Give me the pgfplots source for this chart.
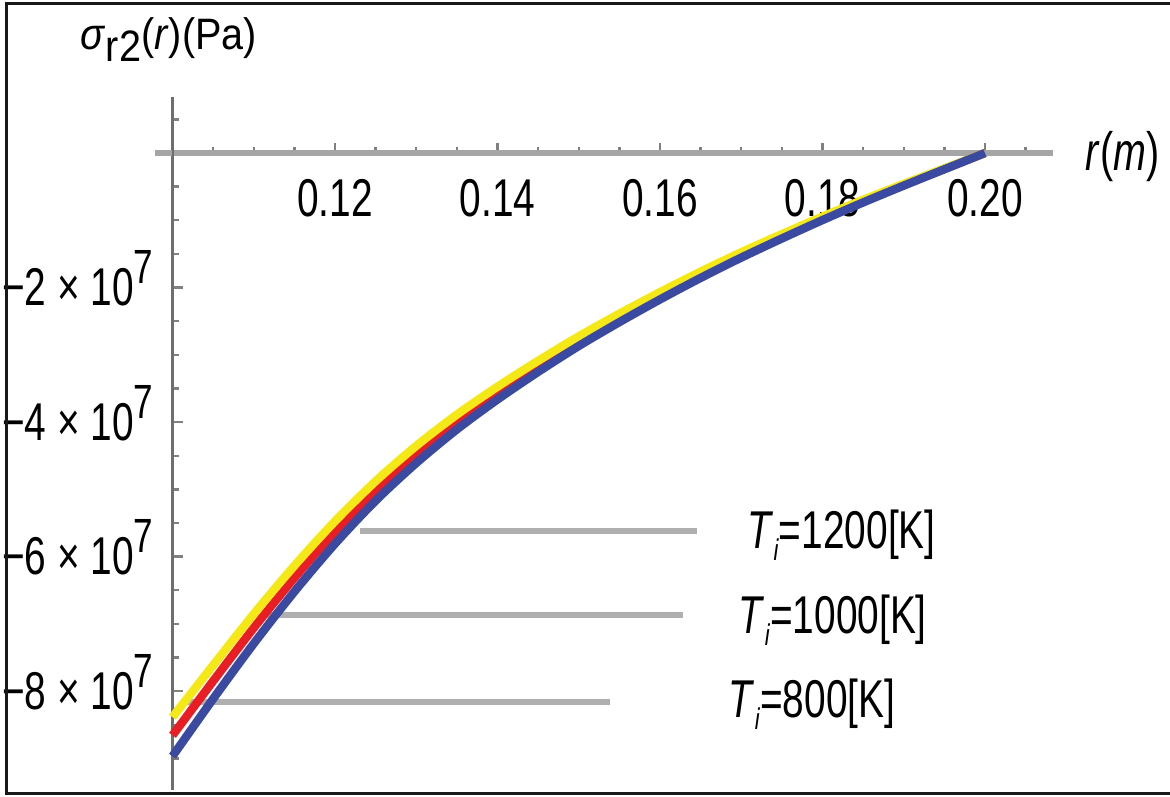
\documentclass[border=0pt]{standalone}
\usepackage{pgfplots}
\usepackage{pgfplotstable}
\usepackage{fontspec}
\pgfplotsset{compat=1.18}
\setmainfont{Liberation Sans}
\newfontfamily\tk{Liberation Sans}[FakeStretch=0.73]
\newfontfamily\lb{Liberation Sans}[FakeStretch=0.9]

\definecolor{cYel}{RGB}{244,232,22}
\definecolor{cRed}{RGB}{232,30,36}
\definecolor{cBlu}{RGB}{58,74,160}
\definecolor{xaxc}{RGB}{165,165,165}
\definecolor{yaxc}{RGB}{110,110,110}
\definecolor{callc}{RGB}{175,175,175}

% radial stress sigma_r2 in units of 1e7 Pa
\pgfplotstableread{
r s
0.100 -8.387
0.105 -7.615
0.110 -6.853
0.115 -6.136
0.120 -5.474
0.125 -4.879
0.130 -4.354
0.135 -3.889
0.140 -3.474
0.145 -3.089
0.150 -2.726
0.155 -2.389
0.160 -2.069
0.165 -1.764
0.170 -1.476
0.175 -1.206
0.180 -0.945
0.185 -0.696
0.190 -0.459
0.195 -0.229
0.200 0
}\tYel
\pgfplotstableread{
r s
0.100 -8.657
0.105 -7.850
0.110 -7.060
0.115 -6.317
0.120 -5.631
0.125 -5.015
0.130 -4.474
0.135 -3.992
0.140 -3.563
0.145 -3.167
0.150 -2.793
0.155 -2.448
0.160 -2.120
0.165 -1.808
0.170 -1.513
0.175 -1.237
0.180 -0.969
0.185 -0.714
0.190 -0.471
0.195 -0.235
0.200 0
}\tRed
\pgfplotstableread{
r s
0.100 -8.967
0.105 -8.115
0.110 -7.293
0.115 -6.521
0.120 -5.809
0.125 -5.169
0.130 -4.609
0.135 -4.109
0.140 -3.664
0.145 -3.254
0.150 -2.869
0.155 -2.514
0.160 -2.177
0.165 -1.857
0.170 -1.555
0.175 -1.271
0.180 -0.997
0.185 -0.735
0.190 -0.485
0.195 -0.242
0.200 0
}\tBlu

\newcommand{\ylab}[1]{−#1 × 10\smash{\raisebox{5.5pt}{\fontsize{12}{12}\selectfont 7}}}
\newcommand{\Tlab}[1]{\textit{T}\raisebox{-3pt}{\fontsize{7.5}{7.5}\selectfont\textit{i}}=#1[K]}

\begin{document}
\begin{tikzpicture}
\begin{axis}[
  scale only axis,
  width=220pt, height=173.3pt,
  xmin=0.1, xmax=0.20833, ymin=-9.47, ymax=0.837,
  axis x line*=middle, axis y line*=left,
  x axis line style={draw=xaxc, line width=1.4pt},
  y axis line style={draw=yaxc, line width=0.9pt},
  clip=false,
  tick align=inside,
  major tick length=2.6pt, minor tick length=1.5pt,
  tick style={draw=gray, line width=0.6pt},
  xtick={0.12,0.14,0.16,0.18,0.20},
  xticklabels={0.12,0.14,0.16,0.18,0.20},
  minor xtick={0.105,0.11,0.115,0.125,0.13,0.135,0.145,0.15,0.155,0.165,0.17,0.175,0.185,0.19,0.195,0.205},
  ytick={-8,-6,-4,-2},
  yticklabels={\ylab{8},\ylab{6},\ylab{4},\ylab{2}},
  minor ytick={0.5,-0.5,-1,-1.5,-2.5,-3,-3.5,-4.5,-5,-5.5,-6.5,-7,-7.5,-8.5,-9},
  xticklabel style={font=\tk\fontsize{13.3}{14}\selectfont, anchor=north, inner sep=0pt, yshift=-6.5pt},
  yticklabel style={font=\tk\fontsize{13.3}{14}\selectfont, anchor=east, inner sep=0pt, xshift=-4.6pt},
]
% short stub of the r axis left of the stress axis
\draw[xaxc, line width=1.4pt] (axis cs:0.09785,0) -- (axis cs:0.1,0);

% pointer lines to the temperature labels
\draw[callc, line width=1.4pt] (axis cs:0.12308,-5.621) -- (axis cs:0.16455,-5.621);
\draw[callc, line width=1.4pt] (axis cs:0.11102,-6.870) -- (axis cs:0.16283,-6.870);
\draw[callc, line width=1.4pt] (axis cs:0.10154,-8.164) -- (axis cs:0.15385,-8.164);

\addplot[cRed, line width=2.1pt, smooth] table[x=r, y=s] {\tRed};
\addplot[cYel, line width=2.1pt, smooth] table[x=r, y=s] {\tYel};
\addplot[cBlu, line width=2.1pt, smooth] table[x=r, y=s] {\tBlu};

\node[anchor=base west, inner sep=0pt, font=\tk\fontsize{13.3}{14}\selectfont] at (axis cs:0.17068,-5.874) {\Tlab{1200}};
\node[anchor=base west, inner sep=0pt, font=\tk\fontsize{13.3}{14}\selectfont] at (axis cs:0.16960,-7.138) {\Tlab{1000}};
\node[anchor=base west, inner sep=0pt, font=\tk\fontsize{13.3}{14}\selectfont] at (axis cs:0.16837,-8.387) {\Tlab{800}};

% axis titles
\node[anchor=base west, inner sep=0pt, font=\lb\fontsize{11}{12}\selectfont] at (axis cs:0.08862,1.532)
  {\textit{σ}\raisebox{-3pt}{r2}(\textit{r})(Pa)};
\node[anchor=base west, inner sep=0pt, font=\tk\fontsize{13.5}{14}\selectfont] at (axis cs:0.21231,-0.253)
  {\textit{r}(\textit{m})};

% outer frame
\draw[black!90, line width=0.8pt] (axis cs:0.222769,2.223) -- (axis cs:0.07957,2.223)
  -- (axis cs:0.07957,-9.524) -- (axis cs:0.222769,-9.524);
\coordinate (bbll) at (axis cs:0.078769,-9.561);
\coordinate (bbur) at (axis cs:0.222769,2.275);
\end{axis}
\pgfresetboundingbox
\path (bbll) rectangle (bbur);
\end{tikzpicture}
\end{document}
